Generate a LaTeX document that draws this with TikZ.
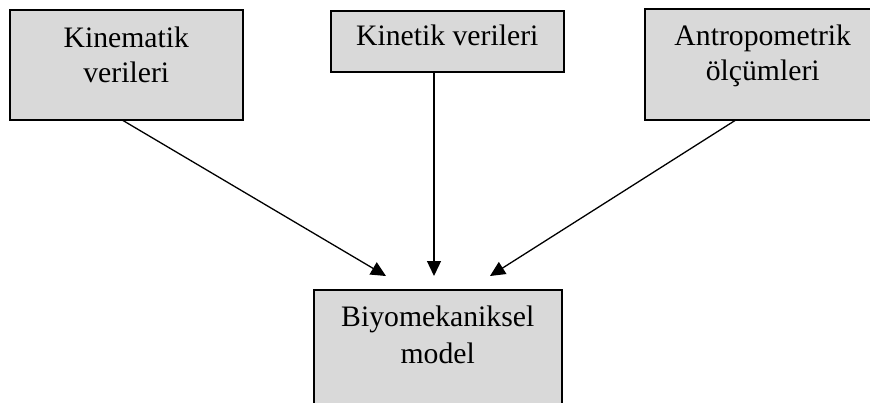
\documentclass[tikz,border=0pt]{standalone}
\usepackage{fontspec}
\setmainfont{Liberation Serif}
\usetikzlibrary{arrows.meta,calc}
\definecolor{boxgray}{HTML}{D9D9D9}
\tikzset{
  box/.style={draw=black, line width=1.5pt, fill=boxgray, inner sep=0pt, anchor=north west},
  boxtext/.style={anchor=north, inner sep=0pt, align=center, font=\fontsize{29.7}{35}\selectfont},
  conn/.style={line width=1.3pt, -{Triangle[length=15pt,width=14pt]}}
}
\begin{document}
\begin{tikzpicture}[x=1pt,y=1pt]
\path[use as bounding box, clip] (0,0) rectangle (870,-402);
% boxes
\node[box, minimum width=233pt, minimum height=110pt] (kin) at (9,-9) {};
\node[box, minimum width=233pt, minimum height=61pt] (ket) at (330,-10) {};
\node[box, minimum width=236pt, minimum height=111pt] (ant) at (644,-8) {};
\node[box, minimum width=248pt, minimum height=125pt] (bio) at (313,-289) {};
% texts
\node[boxtext] (kint) at ([yshift=-17.7pt]kin.north) {Kinematik\\verileri};
\node[boxtext] (kett) at ([yshift=-14.7pt]ket.north) {Kinetik verileri};
\node[boxtext] (antt) at ([yshift=-16.7pt]ant.north) {Antropometrik\\ölçümleri};
\node[boxtext, font=\fontsize{29.7}{37}\selectfont] (biot) at ([yshift=-16.7pt]bio.north) {Biyomekaniksel\\model};
% connector ends
\coordinate (s1) at ([xshift=114pt]kin.south west);
\coordinate (s2) at ([xshift=104pt]ket.south west);
\coordinate (s3) at ([xshift=91pt]ant.south west);
\coordinate (e1) at (386,-276);
\coordinate (e2) at (434,-276);
\coordinate (e3) at (490,-276);
\draw[conn] (s1) -- (e1);
\draw[conn] (s2) -- (e2);
\draw[conn] (s3) -- (e3);
\end{tikzpicture}
\end{document}
